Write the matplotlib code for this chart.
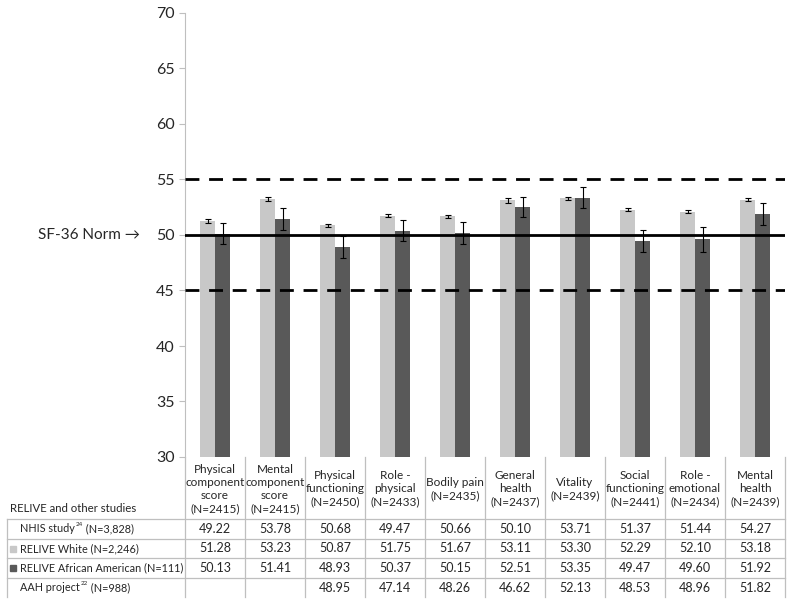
import numpy as np
import matplotlib
matplotlib.use("Agg")
import matplotlib.pyplot as plt
from matplotlib.transforms import blended_transform_factory

plt.rcParams['font.family'] = ['Lato', 'DejaVu Sans']

# ---------------- Data ----------------
categories = [
    "Physical\ncomponent\nscore\n(N=2415)",
    "Mental\ncomponent\nscore\n(N=2415)",
    "Physical\nfunctioning\n(N=2450)",
    "Role -\nphysical\n(N=2433)",
    "Bodily pain\n(N=2435)",
    "General\nhealth\n(N=2437)",
    "Vitality\n(N=2439)",
    "Social\nfunctioning\n(N=2441)",
    "Role -\nemotional\n(N=2434)",
    "Mental\nhealth\n(N=2439)",
]

nhis     = [49.22, 53.78, 50.68, 49.47, 50.66, 50.10, 53.71, 51.37, 51.44, 54.27]
white    = [51.28, 53.23, 50.87, 51.75, 51.67, 53.11, 53.30, 52.29, 52.10, 53.18]
african  = [50.13, 51.41, 48.93, 50.37, 50.15, 52.51, 53.35, 49.47, 49.60, 51.92]
aah      = [None, None, 48.95, 47.14, 48.26, 46.62, 52.13, 48.53, 48.96, 51.82]

white_err   = [0.2, 0.2, 0.15, 0.15, 0.15, 0.2, 0.15, 0.15, 0.15, 0.15]
african_err = [0.95, 1.0, 1.0, 0.95, 1.0, 0.9, 0.95, 1.0, 1.1, 1.0]

row_labels = [
    ("NHIS study", "24", " (N=3,828)"),
    ("RELIVE White (N=2,246)", "", ""),
    ("RELIVE African American (N=111)", "", ""),
    ("AAH project", "22", " (N=988)"),
]

norm_line = 50
band = [45, 55]

# ---------------- Style ----------------
LIGHT = '#c8c8c8'
DARK = '#595959'
GRID = '#bfbfbf'
TXT = '#262626'
W, H = 800, 600
FS_HEAD = 8.5
FS_ROW = 7.8
FS_VAL = 9


def fy(py):
    return 1 - py / H


def fx(px):
    return px / W


fig = plt.figure(figsize=(8, 6), dpi=100)
ax = fig.add_axes([fx(185), fy(457), fx(785) - fx(185), fy(13) - fy(457)])

x = np.arange(len(categories))
bw = 0.25
ax.bar(x - bw / 2, white, bw, color=LIGHT, zorder=2)
ax.bar(x + bw / 2, african, bw, color=DARK, zorder=2)
ax.errorbar(x - bw / 2, white, yerr=white_err, fmt='none', ecolor='black',
            elinewidth=0.8, capsize=2.5, capthick=0.8, zorder=3)
ax.errorbar(x + bw / 2, african, yerr=african_err, fmt='none', ecolor='black',
            elinewidth=0.8, capsize=2.5, capthick=0.8, zorder=3)

ax.axhline(norm_line, color='black', lw=2, zorder=4)
for b in band:
    ax.axhline(b, color='black', lw=2, ls=(0, (5, 3.5)), zorder=4)

ax.set_xlim(-0.5, len(categories) - 0.5)
ax.set_ylim(30, 70)
ax.set_yticks(range(30, 71, 5))
ax.tick_params(axis='y', labelsize=11.5, colors=GRID, labelcolor=TXT, length=4)
ax.set_xticks([])
for s in ['top', 'right', 'bottom']:
    ax.spines[s].set_visible(False)
ax.spines['left'].set_color(GRID)

ax.text(-0.075, norm_line, "SF-36 Norm \u2192",
        transform=blended_transform_factory(ax.transAxes, ax.transData),
        ha='right', va='center', fontsize=11, color=TXT)

# ---------------- Data table ----------------
tr = blended_transform_factory(ax.transData, fig.transFigure)
row_edges = [457, 519, 539, 558, 578, 597]

# header
for i, lab in enumerate(categories):
    fig.text(i, fy(489), lab, transform=tr, ha='center', va='center',
             fontsize=FS_HEAD, color=TXT, linespacing=1.25)
fig.text(fx(10), fy(508), "RELIVE and other studies", ha='left', va='center',
         fontsize=FS_ROW + 0.4, color=TXT)

# vertical lines
for e in np.arange(-0.5, len(categories), 1.0):
    fig.add_artist(plt.Line2D([e, e], [fy(457), fy(597)], transform=tr,
                              color=GRID, lw=0.9))
fig.add_artist(plt.Line2D([fx(7), fx(7)], [fy(519), fy(597)],
                          transform=fig.transFigure, color=GRID, lw=0.9))
# horizontal lines
for py in row_edges[1:-1]:
    fig.add_artist(plt.Line2D([fx(7), fx(785)], [fy(py), fy(py)],
                              transform=fig.transFigure, color=GRID, lw=0.9))

rows = [nhis, white, african, aah]
markers = [None, LIGHT, DARK, None]
for r, (vals, lab, mk) in enumerate(zip(rows, row_labels, markers)):
    yc = fy((row_edges[r + 1] + row_edges[r + 2]) / 2)
    t = fig.text(fx(20), yc, lab[0], ha='left', va='center', fontsize=FS_ROW,
                 color=TXT)
    if lab[1]:
        t = ax.annotate(lab[1], xy=(1, 0.5), xycoords=t, xytext=(0.5, 3),
                        textcoords='offset points', ha='left', va='center',
                        fontsize=4.5, color=TXT, annotation_clip=False)
        ax.annotate(lab[2], xy=(1, 0.5), xycoords=t, xytext=(0, -3),
                    textcoords='offset points', ha='left', va='center',
                    fontsize=FS_ROW, color=TXT, annotation_clip=False)
    if mk:
        fig.add_artist(plt.Rectangle((fx(10), yc - 3 / H), 6 / W, 6 / H,
                                     transform=fig.transFigure, color=mk))
    for i, v in enumerate(vals):
        if v is None:
            continue
        fig.text(i, yc, f"{v:.2f}", transform=tr, ha='center', va='center',
                 fontsize=FS_VAL, color=TXT)

fig.savefig("out.png", dpi=100)
